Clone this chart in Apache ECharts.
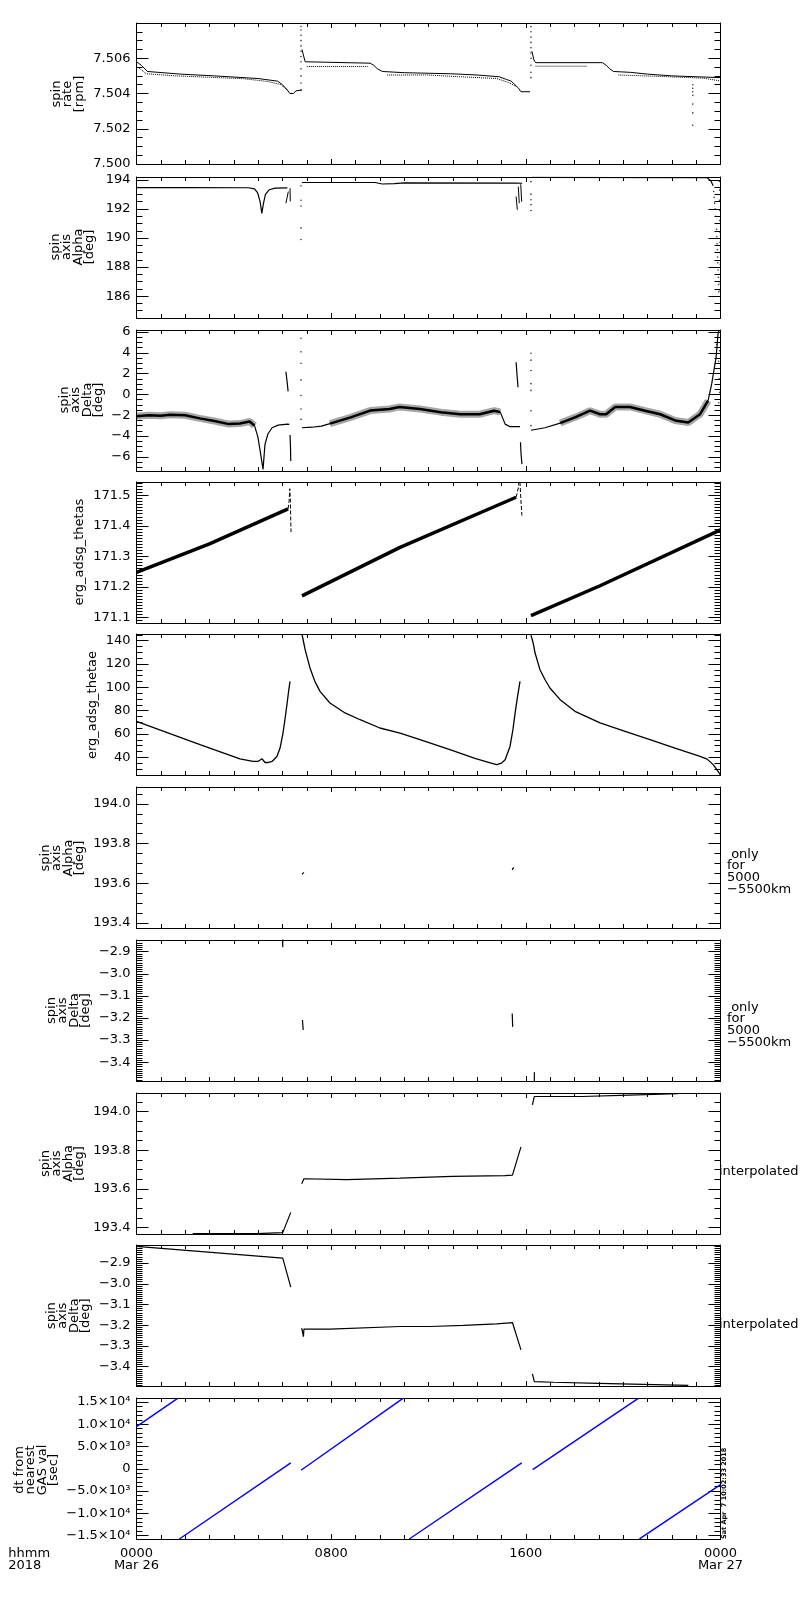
<!DOCTYPE html>
<html><head><meta charset="utf-8">
<script src="https://cdn.jsdelivr.net/npm/echarts@6/dist/echarts.min.js"></script>
<style>html,body{margin:0;padding:0;background:#fff}#c{width:800px;height:1600px}</style>
</head><body><div id="c"></div>
<script>
// ---------------- DATA (time in hours since 2018-03-26 00:00) ----------------
const xTickLabels = {0:'0000\nMar 26', 8:'0800', 16:'1600', 24:'0000\nMar 27'};

// Panel 1: spin rate [rpm]
const rateMain = [
 [0,7.5058],[0.2,7.5056],[0.45,7.50525],[1.8,7.5051],[3.2,7.5050],[5.0,7.50485],[5.8,7.5047],[6.0,7.5045],[6.2,7.5042],[6.3,7.5040],[6.45,7.5040],[6.55,7.50415],[6.8,7.5042],
 null,
 [6.8,7.5065],[6.93,7.5058],[7.0,7.50572],[9.6,7.50572],[9.75,7.5056],[9.9,7.5054],[10.1,7.50525],[11.0,7.50518],[12.9,7.50512],[14.0,7.50505],[14.9,7.50495],[15.2,7.5048],[15.4,7.5047],[15.55,7.5045],[15.7,7.5043],[15.8,7.5041],[16.17,7.5041],
 null,
 [16.25,7.5064],[16.33,7.5059],[16.4,7.50575],[19.15,7.50575],[19.3,7.5056],[19.45,7.5054],[19.6,7.50525],[20.3,7.5052],[21.0,7.5051],[22.0,7.5050],[24,7.5049]
];
const rateAlt = [
 [0.1,7.50545],[0.4,7.50512],[1.6,7.5050],[3.0,7.50492],[4.4,7.50484],[5.4,7.50468],[5.9,7.50452],[6.1,7.50432],[6.25,7.5041],
 null,
 [7.0,7.50553],[9.5,7.50553],
 null,
 [10.3,7.50505],[12.0,7.50505],[13.0,7.50497],[14.8,7.50485],[15.3,7.50462],[15.6,7.5044],
 null,
 [16.4,7.50555],[18.5,7.50555],
 null,
 [19.8,7.50505],[21.5,7.50497],[23.3,7.50487],[24,7.50471]
];
const rateDots = [
 [6.76,7.5042],[6.76,7.5046],[6.76,7.5050],[6.76,7.5054],[6.76,7.5058],[6.76,7.5061],[6.76,7.5064],[6.76,7.5067],[6.76,7.5070],[6.76,7.5073],[6.76,7.5076],[6.76,7.5078],
 [16.21,7.5049],[16.21,7.5052],[16.21,7.5056],[16.21,7.5060],[16.21,7.5063],[16.21,7.5066],[16.21,7.5069],[16.21,7.5072],[16.21,7.5075],[16.21,7.5078],
 [22.86,7.5045],[22.86,7.5043],[22.86,7.5041],[22.86,7.5039],[22.86,7.5034],[22.86,7.5029],[22.86,7.5022]
];

// Panel 2: spin axis Alpha [deg]
const alphaMain = [
 [0,193.47],[2.0,193.47],[4.6,193.46],[4.85,193.38],[4.98,193.1],[5.08,192.5],[5.15,191.7],[5.22,192.4],[5.3,193.0],[5.45,193.32],[5.7,193.43],[6.2,193.45],
 null,
 [6.8,193.82],[9.8,193.82],[10.1,193.72],[10.6,193.74],[11.0,193.8],[15.6,193.78],[15.85,193.77],
 null,
 [16.25,194.17],[23.45,194.15],[23.6,193.95],[23.7,193.6]
];
const alphaStrokes = [
 [6.14,192.4],[6.24,193.2], null,
 [6.31,193.43],[6.32,192.52], null,
 [15.6,192.86],[15.65,191.95], null,
 [15.69,193.54],[15.73,192.4], null,
 [15.79,193.7],[15.83,192.5]
];
const alphaDots = [
 [6.76,193.6],[6.76,192.6],[6.76,192.2],[6.76,190.7],[6.76,189.9],
 [16.21,193.88],[16.21,193.02],[16.21,192.64],[16.21,192.3],[16.21,191.9],
 [23.72,193.2],[23.74,192.8],[23.76,192.4],[23.78,192.0],[23.8,191.5],[23.82,191.0],[23.84,190.6],[23.85,190.1],[23.86,189.6],[23.87,189.2],[23.88,188.7],[23.89,188.3],[23.9,187.8],[23.91,187.3],[23.92,186.8],[23.93,186.3],
 [23.95,193.9],[23.96,193.3],[23.96,192.6],[23.97,191.9],[23.97,191.2],[23.98,190.4],[23.98,189.7],[23.98,189.0],[23.99,188.2],[23.99,187.5],[23.99,186.9],[23.99,186.4]
];

// Panel 3: spin axis Delta [deg]
const deltaNoisy = [
 [0,-2.1],[0.5,-2.0],[1.0,-2.05],[1.37,-1.95],[2.0,-2.0],[2.6,-2.3],[3.2,-2.55],[3.8,-2.85],[4.25,-2.8],[4.65,-2.6],[4.85,-3.0],
 null,
 [7.95,-2.8],[8.8,-2.2],[9.6,-1.55],[10.4,-1.4],[10.8,-1.2],[11.65,-1.4],[12.5,-1.7],[13.3,-1.9],[14.1,-1.9],[14.7,-1.56],[14.95,-1.7],
 null,
 [17.41,-2.75],[18.02,-2.2],[18.64,-1.56],[19.05,-1.9],[19.3,-1.9],[19.67,-1.2],[20.28,-1.2],[20.9,-1.56],[21.52,-1.9],[22.13,-2.5],[22.67,-2.7],[23.16,-1.9],[23.49,-0.6]
];
const deltaClean = [
 [4.85,-3.0],[4.99,-4.1],[5.08,-5.4],[5.16,-6.6],[5.2,-7.2],[5.24,-6.0],[5.28,-4.8],[5.40,-3.8],[5.57,-3.2],[5.82,-2.95],[6.2,-2.85],[6.28,-2.88],
 null,
 [6.31,-3.9],[6.33,-5.2],[6.34,-6.4],
 null,
 [6.14,2.2],[6.2,1.0],[6.23,0.3],
 null,
 [6.8,-3.2],[7.2,-3.15],[7.6,-3.05],[7.95,-2.8],
 null,
 [14.95,-1.7],[15.15,-2.85],[15.35,-3.1],[15.76,-3.1],
 null,
 [15.6,3.1],[15.64,1.8],[15.68,0.7],
 null,
 [15.78,-4.6],[15.8,-5.6],[15.84,-6.7],
 null,
 [16.21,-3.44],[16.79,-3.2],[17.41,-2.75],
 null,
 [23.49,-0.6],[23.64,1.04],[23.82,3.6],[23.9,5.9],[23.95,6.2]
];
const deltaDots = [
 [6.76,5.4],[6.76,4.1],[6.76,3.0],[6.76,1.4],[6.76,-0.1],[6.76,-1.4],[6.76,-2.4],
 [16.21,3.96],[16.21,3.3],[16.21,2.3],[16.21,1.04],[16.21,0.39],[16.21,-1.56],[16.21,-3.0],
 [23.85,4.8],[23.92,3.2],[23.95,1.5],[23.97,0.2],[23.93,-0.8],[23.98,2.5],[23.96,4.2]
];

// Panel 4: erg_adsg_thetas
const thetasBand = [
 [0,171.248],[3.0,171.341],[6.23,171.456],
 null,
 [6.8,171.171],[10.83,171.33],[15.6,171.494],
 null,
 [16.21,171.106],[19.05,171.204],[24,171.387]
];
const thetasSpikes = [
 [6.23,171.456],[6.27,171.48],[6.3,171.522],[6.32,171.49],[6.35,171.38],
 null,
 [15.6,171.494],[15.68,171.52],[15.72,171.544],
 null,
 [15.76,171.544],[15.8,171.48],[15.84,171.434]
];

// Panel 5: erg_adsg_thetae
const thetae = [
 [0,70.7],[2.61,50.8],[4.25,38.6],[4.79,36.4],[4.99,36.4],[5.16,38.7],[5.28,35.5],[5.40,35.5],[5.57,36.4],[5.77,40.7],[5.9,47.9],[6.02,60.8],[6.10,72.2],[6.19,86.5],[6.26,98],[6.31,105],
 null,
 [6.8,145.7],[6.93,132.3],[7.13,116.6],[7.33,105.1],[7.54,96.5],[7.95,86.5],[8.57,78],[9.19,72.2],[10.0,65.1],[10.83,60.8],[11.65,55.2],[12.88,46.5],[13.91,39.0],[14.5,35.5],[14.8,33.7],[15.0,35.0],[15.15,37.9],[15.35,49.3],[15.47,63.7],[15.56,78],[15.64,89.4],[15.76,105.1],
 null,
 [16.21,145],[16.3,138],[16.38,129.4],[16.58,115.1],[16.79,106.5],[16.99,99.4],[17.41,89.4],[18.02,79.4],[19.05,69.5],[20.08,62.3],[21.1,55.2],[22.13,47.9],[23.16,40.7],[23.45,38.4],[23.7,33.7],[23.9,28],[24,25]
];

// Panel 6: spin axis Alpha, only for 5000-5500km
const alphaOnly = [[6.8,193.645],[6.88,193.655], null, [15.44,193.668],[15.5,193.68]];

// Panel 7: spin axis Delta, only for 5000-5500km
const deltaOnly = [[6.01,-2.84],[6.01,-2.88], null, [6.82,-3.209],[6.85,-3.254], null, [15.44,-3.18],[15.46,-3.24], null, [16.35,-3.445],[16.35,-3.49]];

// Panel 8: spin axis Alpha, interpolated
const alphaInterp = [
 [2.31,193.368],[4.94,193.368],[4.94,193.373],[6.01,193.373],[6.34,193.478],
 null,
 [6.79,193.626],[6.88,193.652],[8.64,193.648],[8.64,193.652],[10.83,193.655],[12.98,193.664],[12.98,193.668],[15.15,193.668],[15.15,193.671],[15.45,193.671],[15.80,193.817],
 null,
 [16.27,194.035],[16.35,194.078],[18.30,194.078],[18.30,194.085],[20.25,194.085],[20.25,194.092],[22.24,194.092]
];

// Panel 9: spin axis Delta, interpolated
const deltaInterp = [
 [0,-2.82],[6.01,-2.876],[6.34,-3.016],
 null,
 [6.79,-3.214],[6.84,-3.206],[6.86,-3.255],[6.88,-3.219],[7.95,-3.219],[10.83,-3.206],[12.06,-3.206],[12.06,-3.201],[13.43,-3.201],[13.43,-3.193],[14.80,-3.193],[14.80,-3.187],[15.45,-3.187],[15.80,-3.319],
 null,
 [16.27,-3.435],[16.35,-3.472],[17.13,-3.475],[18.98,-3.48],[20.83,-3.485],[22.68,-3.49]
];

// Panel 10: dt from nearest GAS val [sec]
const dtNearest = [
 [0,9460],[1.69,15800], null,
 [1.76,-15740],[6.34,1350], null,
 [6.76,-315],[10.95,15800], null,
 [11.21,-15740],[15.83,1350], null,
 [16.28,-160],[20.62,15800], null,
 [20.67,-15740],[24,-3540]
];

// ---------------- LAYOUT / STYLE ----------------
const FONT = 'DejaVu Sans';
const SUP = {3:'\u00B3', 4:'\u2074'};
const minus = s => s.replace('-', '\u2212');
const sci = v => { if (Math.abs(v) < 1e-6) return '0'; const a = Math.abs(v); const e = Math.floor(Math.log10(a) + 1e-9); const m = a / Math.pow(10, e); return (v < 0 ? '\u2212' : '') + m.toFixed(1) + '\u00D710' + SUP[e]; };

const panels = [
 {top:23,   min:7.500,   max:7.508,   split:4, step:0.002, minor:4,  fmt:v=>v.toFixed(3), hideMax:true},
 {top:177,  min:184.5,   max:194.2,   split:5, step:2,     minor:4,  fmt:v=>v.toFixed(0)},
 {top:330,  min:-7.36,   max:6.2,     split:7, step:2,     minor:4,  fmt:v=>minus(v.toFixed(0))},
 {top:482,  min:171.082, max:171.544, split:5, step:0.1,   minor:10, fmt:v=>v.toFixed(1)},
 {top:634,  min:24.8,    max:145.7,   split:6, step:20,    minor:4,  fmt:v=>v.toFixed(0)},
 {top:787,  min:193.375, max:194.085, split:4, step:0.2,   minor:4,  fmt:v=>v.toFixed(1)},
 {top:940,  min:-3.485,  max:-2.847,  split:6, step:0.1,   minor:10, fmt:v=>minus(v.toFixed(1))},
 {top:1093, min:193.366, max:194.096, split:4, step:0.2,   minor:4,  fmt:v=>v.toFixed(1)},
 {top:1245, min:-3.493,  max:-2.813,  split:6, step:0.1,   minor:10, fmt:v=>minus(v.toFixed(1))},
 {top:1398, min:-15750,  max:15900,   split:6, step:5000,  minor:5,  fmt:sci}
];
const GL = 136.5, GW = 584, GH = 141;

const grids = [], xAxes = [], yAxes = [], series = [];
const blk = {color:'#000', width:1};
panels.forEach((p, i) => {
  grids.push({left:GL, width:GW, top:p.top, height:GH, show:false, containLabel:false, outerBoundsMode:'none'});
  const xBase = {type:'value', gridIndex:i, min:0, max:24, interval:8,
    axisLine:{show:true, onZero:false, lineStyle:blk},
    axisTick:{show:true, inside:true, length:5, lineStyle:blk},
    minorTick:{show:true, splitNumber:8, length:4, lineStyle:blk},
    splitLine:{show:false}, minorSplitLine:{show:false}};
  xAxes.push(Object.assign({}, xBase, {position:'bottom',
    axisLabel:{show:i===9, color:'#000', fontFamily:FONT, fontSize:13, lineHeight:12.5, margin:8,
      showMinLabel:true, showMaxLabel:true, formatter:v => xTickLabels[Math.round(v)] || ''}}));
  xAxes.push(Object.assign({}, xBase, {position:'top', axisLabel:{show:false}}));
  const yBase = {type:'value', gridIndex:i, min:p.min, max:p.max, splitNumber:p.split, scale:true,
    axisLine:{show:true, onZero:false, lineStyle:blk},
    axisTick:{show:true, inside:true, length:12, lineStyle:blk},
    minorTick:{show:true, splitNumber:p.minor, length:6, lineStyle:blk},
    splitLine:{show:false}, minorSplitLine:{show:false}};
  yAxes.push(Object.assign({}, yBase, {position:'left',
    axisLabel:{show:true, color:'#000', fontFamily:FONT, fontSize:13, margin:6, showMinLabel:true, showMaxLabel:true,
      formatter:v => { const q = v / p.step; if (Math.abs(q - Math.round(q)) > 1e-4) return ''; if (p.hideMax && v > p.max - p.step*0.01) return ''; return p.fmt(v); }}}));
  yAxes.push(Object.assign({}, yBase, {position:'right', axisLabel:{show:false}}));
});

function segs(arr){ const out=[]; let cur=[]; arr.forEach(pt=>{ if(pt===null){ if(cur.length) out.push(cur); cur=[]; } else cur.push(pt); }); if(cur.length) out.push(cur); return out; }
function addLine(i, arr, ls){ segs(arr).forEach(seg => series.push({type:'line', xAxisIndex:2*i, yAxisIndex:2*i, data:seg, symbol:'none', showSymbol:false, silent:true, animation:false, lineStyle:Object.assign({color:'#000', width:1}, ls)})); }
function addDots(i, arr, size){ series.push({type:'scatter', xAxisIndex:2*i, yAxisIndex:2*i, data:arr, symbolSize:size||2, silent:true, animation:false, itemStyle:{color:'#000'}}); }

addLine(0, rateMain, {width:1});
addLine(0, rateAlt, {width:1, type:'dotted'});
addDots(0, rateDots, 1.6);
addLine(1, alphaMain, {width:1.2});
addLine(1, alphaStrokes, {width:1});
addDots(1, alphaDots, 1.6);
addLine(2, deltaNoisy, {width:7, opacity:0.35});
addLine(2, deltaNoisy, {width:2.5});
addLine(2, deltaClean, {width:1.2});
addDots(2, deltaDots, 1.6);
addLine(3, thetasBand, {width:3.5});
addLine(3, thetasSpikes, {width:1, type:'dashed'});
addLine(4, thetae, {width:1.3});
addLine(5, alphaOnly, {width:1.2});
addLine(6, deltaOnly, {width:1.2});
addLine(7, alphaInterp, {width:1.2});
addLine(8, deltaInterp, {width:1.2});
addLine(9, dtNearest, {width:1.4, color:'#0000ff'});

// ---------------- TEXT ----------------
const R = Math.PI / 2;
function vtext(x, y, text, size, lh){ return {type:'text', x, y, rotation:R, silent:true,
  style:{text, fill:'#000', fontFamily:FONT, fontSize:size||13, lineHeight:lh||11.5, align:'center', verticalAlign:'middle', textAlign:'center', textVerticalAlign:'middle'}}; }
function htext(x, y, text, size, lh, align){ return {type:'text', x, y, silent:true,
  style:{text, fill:'#000', fontFamily:FONT, fontSize:size||13, lineHeight:lh||12, align:align||'left', verticalAlign:'middle', textAlign:align||'left', textVerticalAlign:'middle'}}; }

const graphics = [
  vtext(68, 94, 'spin\nrate\n[rpm]'),
  vtext(72.5, 247, 'spin\naxis\nAlpha\n[deg]'),
  vtext(81.7, 400, 'spin\naxis\nDelta\n[deg]'),
  vtext(80, 552, 'erg_adsg_thetas'),
  vtext(92.5, 705, 'erg_adsg_thetae'),
  vtext(62.8, 858, 'spin\naxis\nAlpha\n[deg]'),
  vtext(68.5, 1010.5, 'spin\naxis\nDelta\n[deg]'),
  vtext(62.8, 1163.5, 'spin\naxis\nAlpha\n[deg]'),
  vtext(68.5, 1315.7, 'spin\naxis\nDelta\n[deg]'),
  vtext(36.7, 1470, 'dt from\nnearest\nGAS val\n[sec]'),
  htext(727, 872, ' only\nfor\n5000\n\u22125500km', 13, 11.9),
  htext(727, 1025, ' only\nfor\n5000\n\u22125500km', 13, 11.9),
  htext(719, 1171.7, 'interpolated'),
  htext(719, 1324.3, 'interpolated'),
  htext(8.3, 1559.5, 'hhmm\n2018', 13, 12.4),
  {type:'text', x:724.5, y:1539, rotation:R, silent:true,
   style:{text:'Sat Apr  7 10:02:33 2018', fill:'#000', fontFamily:FONT, fontSize:6.5, fontWeight:'bold', align:'left', verticalAlign:'middle', textAlign:'left', textVerticalAlign:'middle'}}
];

const chart = echarts.init(document.getElementById('c'), null, {renderer:'canvas'});
chart.setOption({
  backgroundColor:'#fff', animation:false,
  grid:grids, xAxis:xAxes, yAxis:yAxes, series:series, graphic:graphics
});
</script>
</body></html>
